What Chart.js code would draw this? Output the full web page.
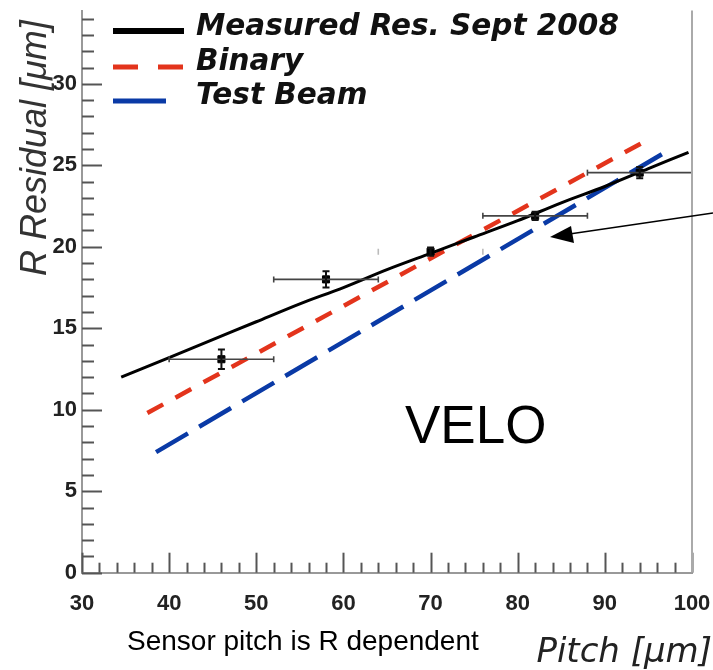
<!DOCTYPE html>
<html>
<head>
<meta charset="utf-8">
<script src="https://cdn.jsdelivr.net/npm/chart.js@4.4.1/dist/chart.umd.min.js"></script>
<style>
  html, body { margin: 0; padding: 0; background: #fff; }
  #wrap { position: relative; width: 713px; height: 670px; }
</style>
</head>
<body>
<div id="wrap"><canvas id="residualChart" width="713" height="670"></canvas></div>
<script>
// measured points (pitch in um, residual in um)
const pitch = [46, 58, 70, 82, 94];
const residual = [13.1, 18.0, 19.7, 21.9, 24.55];
const pitchErr = [6, 6, 6, 6, 6];
const residualErr = [0.6, 0.5, 0.25, 0.25, 0.35];

// fitted curve through the Sept 2008 data
const measuredX = [34.5, 40, 45, 50, 55, 60, 65, 70, 75, 80, 85, 90, 95, 99.6];
const measuredY = [12.0, 13.2, 14.3, 15.4, 16.5, 17.5, 18.6, 19.6, 20.6, 21.6, 22.7, 23.7, 24.8, 25.8];

// binary resolution and test beam expectation
const binaryX = [37.5, 94.7];
const binaryY = [9.8, 26.5];
const beamX = [38.5, 96.6];
const beamY = [7.4, 25.7];

const xTickLabels = [30, 40, 50, 60, 70, 80, 90, 100];
const yTickLabels = [0, 5, 10, 15, 20, 25, 30];

const legendNames = ["Measured Res. Sept 2008", "Binary", "Test Beam"];

function toXY(xs, ys) {
  return xs.map((x, i) => ({ x: x, y: ys[i] }));
}

// ticks pointing inside the frame, major + minor
const innerTicks = {
  id: "innerTicks",
  afterDraw(chart) {
    const ctx = chart.ctx;
    const xs = chart.scales.x, ys = chart.scales.y;
    const a = chart.chartArea;
    ctx.save();
    ctx.strokeStyle = "#555";
    ctx.lineWidth = 2;
    for (let v = 0; v <= 34; v++) {
      const py = Math.round(ys.getPixelForValue(v)) + 0.5;
      const len = v % 5 === 0 ? 20 : 12;
      ctx.beginPath();
      ctx.moveTo(a.left, py);
      ctx.lineTo(a.left + len, py);
      ctx.stroke();
    }
    for (let v = 30; v <= 100; v += 2) {
      const px = Math.round(xs.getPixelForValue(v)) + 0.5;
      const len = v % 10 === 0 ? 20 : 10;
      ctx.beginPath();
      ctx.moveTo(px, a.bottom);
      ctx.lineTo(px, a.bottom - len);
      ctx.stroke();
    }
    // right frame line
    ctx.strokeStyle = "#aaa";
    ctx.beginPath();
    ctx.moveTo(a.right, a.top);
    ctx.lineTo(a.right, a.bottom);
    ctx.stroke();
    ctx.restore();
  }
};

// horizontal and vertical error bars
const errorBars = {
  id: "errorBars",
  afterDatasetsDraw(chart) {
    const ctx = chart.ctx;
    const xs = chart.scales.x, ys = chart.scales.y;
    ctx.save();
    pitch.forEach((p, i) => {
      const py = ys.getPixelForValue(residual[i]);
      const px = xs.getPixelForValue(p);
      const x0 = xs.getPixelForValue(p - pitchErr[i]);
      const x1 = xs.getPixelForValue(Math.min(100, p + pitchErr[i]));
      ctx.strokeStyle = "#444";
      ctx.lineWidth = 1.6;
      if (i !== 2) {
        ctx.beginPath();
        ctx.moveTo(x0, py);
        ctx.lineTo(x1, py);
        ctx.stroke();
      } else {
        ctx.strokeStyle = "#bbb";
      }
      ctx.beginPath();
      ctx.moveTo(x0, py - 3);
      ctx.lineTo(x0, py + 3);
      if (p + pitchErr[i] < 100) {
        ctx.moveTo(x1, py - 3);
        ctx.lineTo(x1, py + 3);
      }
      ctx.stroke();
      const y0 = ys.getPixelForValue(residual[i] - residualErr[i]);
      const y1 = ys.getPixelForValue(residual[i] + residualErr[i]);
      ctx.strokeStyle = "#111";
      ctx.lineWidth = 2;
      ctx.beginPath();
      ctx.moveTo(px, y0);
      ctx.lineTo(px, y1);
      ctx.moveTo(px - 3.5, y0);
      ctx.lineTo(px + 3.5, y0);
      ctx.moveTo(px - 3.5, y1);
      ctx.lineTo(px + 3.5, y1);
      ctx.stroke();
    });
    ctx.restore();
  }
};

// legend, titles, notes and arrow
const decorations = {
  id: "decorations",
  afterDraw(chart) {
    const ctx = chart.ctx;
    ctx.save();
    // legend
    ctx.lineCap = "butt";
    ctx.strokeStyle = "#000";
    ctx.lineWidth = 6;
    ctx.beginPath(); ctx.moveTo(113, 31); ctx.lineTo(184, 31); ctx.stroke();
    ctx.strokeStyle = "#e3341c";
    ctx.lineWidth = 5;
    ctx.setLineDash([25, 20]);
    ctx.beginPath(); ctx.moveTo(113, 67); ctx.lineTo(184, 67); ctx.stroke();
    ctx.setLineDash([]);
    ctx.strokeStyle = "#0a3aa6";
    ctx.beginPath(); ctx.moveTo(113, 101); ctx.lineTo(166, 101); ctx.stroke();

    ctx.fillStyle = "#111";
    ctx.font = "italic bold 29.5px 'DejaVu Sans'";
    ctx.textAlign = "left";
    ctx.textBaseline = "middle";
    ctx.fillText(legendNames[0], 196, 27);
    ctx.fillText(legendNames[1], 196, 62);
    ctx.fillText(legendNames[2], 196, 96);

    // y title
    ctx.save();
    ctx.translate(46, 276);
    ctx.rotate(-Math.PI / 2);
    ctx.fillStyle = "#333";
    ctx.font = "italic 36px 'Liberation Sans'";
    ctx.textAlign = "left";
    ctx.textBaseline = "alphabetic";
    ctx.fillText("R Residual [\u03bcm]", 0, 0);
    ctx.restore();

    // x title
    ctx.fillStyle = "#222";
    ctx.font = "italic 34px 'DejaVu Sans'";
    ctx.textAlign = "right";
    ctx.textBaseline = "alphabetic";
    ctx.fillText("Pitch [\u03bcm]", 712, 662);

    // note below the axis
    ctx.fillStyle = "#000";
    ctx.font = "28px 'Liberation Sans'";
    ctx.textAlign = "left";
    ctx.fillText("Sensor pitch is R dependent", 127, 650);

    // detector label
    ctx.font = "53px 'Liberation Sans'";
    ctx.fillText("VELO", 405, 443);

    // arrow
    ctx.strokeStyle = "#000";
    ctx.fillStyle = "#000";
    ctx.lineWidth = 1.6;
    ctx.beginPath();
    ctx.moveTo(713, 213);
    ctx.lineTo(566, 234.5);
    ctx.stroke();
    ctx.beginPath();
    ctx.moveTo(550, 237);
    ctx.lineTo(571, 226);
    ctx.lineTo(574, 243);
    ctx.closePath();
    ctx.fill();
    ctx.restore();
  }
};

const ctxResidual = document.getElementById("residualChart").getContext("2d");

new Chart(ctxResidual, {
  type: "scatter",
  data: {
    datasets: [
      {
        label: "Data",
        data: toXY(pitch, residual),
        pointStyle: "rect",
        pointRadius: 5,
        backgroundColor: "#000",
        borderColor: "#000",
        showLine: false
      },
      {
        label: legendNames[0],
        data: toXY(measuredX, measuredY),
        showLine: true,
        borderColor: "#000",
        borderWidth: 3,
        pointRadius: 0,
        tension: 0.3
      },
      {
        label: legendNames[1],
        data: toXY(binaryX, binaryY),
        showLine: true,
        borderColor: "#e3341c",
        borderWidth: 4.5,
        borderDash: [18, 14],
        pointRadius: 0
      },
      {
        label: legendNames[2],
        data: toXY(beamX, beamY),
        showLine: true,
        borderColor: "#0a3aa6",
        borderWidth: 4.5,
        borderDash: [37, 13],
        pointRadius: 0
      }
    ]
  },
  options: {
    responsive: false,
    animation: false,
    devicePixelRatio: 1,
    layout: { padding: { top: 10.5, right: 21, left: 0, bottom: 0 }, autoPadding: false },
    plugins: {
      legend: { display: false },
      tooltip: { enabled: false }
    },
    scales: {
      x: {
        type: "linear",
        min: 30,
        max: 100,
        afterFit: (s) => { s.height = 97.3; s.paddingLeft = 0; s.paddingRight = 0; },
        afterBuildTicks: (s) => { s.ticks = xTickLabels.map(v => ({ value: v })); },
        grid: { display: false, drawTicks: false },
        border: { display: true, color: "#999", width: 2 },
        ticks: {
          color: "#222",
          padding: 18,
          maxRotation: 0,
          font: { family: "Liberation Sans", size: 22, weight: "bold" }
        }
      },
      y: {
        type: "linear",
        min: 0,
        max: 34.5,
        afterFit: (s) => { s.width = 82; s.paddingTop = 0; s.paddingBottom = 0; },
        afterBuildTicks: (s) => { s.ticks = yTickLabels.map(v => ({ value: v })); },
        grid: { display: false, drawTicks: false },
        border: { display: true, color: "#999", width: 2 },
        ticks: {
          color: "#222",
          padding: 5,
          font: { family: "Liberation Sans", size: 22, weight: "bold" }
        }
      }
    }
  },
  plugins: [innerTicks, errorBars, decorations]
});
</script>
</body>
</html>
